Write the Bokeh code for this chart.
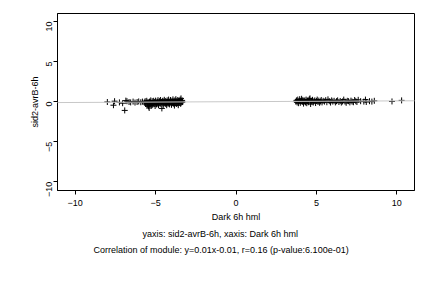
import math
from bokeh.plotting import figure
from bokeh.models import Slope, Range1d, FixedTicker, Title
from bokeh.embed import file_html
from bokeh.resources import INLINE

# ---- data ----
dark_6h_hml = [
    -8.00, -7.62, -7.55, -7.25, -7.05, -6.92, -6.85, -6.78, -6.65, -6.55,
    -6.40, -6.28, -6.15, -6.05, -5.92, -5.82,
    -5.70, -5.65, -5.62, -5.58, -5.55, -5.52, -5.50, -5.47, -5.44, -5.40,
    -5.38, -5.35, -5.32, -5.30, -5.27, -5.24, -5.21, -5.18, -5.15, -5.12,
    -5.09, -5.06, -5.03, -5.00, -4.97, -4.94, -4.91, -4.88, -4.85, -4.82,
    -4.79, -4.76, -4.73, -4.70, -4.67, -4.64, -4.61, -4.58, -4.55, -4.52,
    -4.49, -4.46, -4.43, -4.40, -4.37, -4.34, -4.31, -4.28, -4.25, -4.22,
    -4.19, -4.16, -4.13, -4.10, -4.07, -4.04, -4.01, -3.98, -3.95, -3.92,
    -3.89, -3.86, -3.83, -3.80, -3.77, -3.74, -3.71, -3.68, -3.65, -3.62,
    -3.59, -3.56, -3.53, -3.50, -3.47, -3.44, -3.42, -3.40, -3.38, -3.35,
    -3.33,
    3.72, 3.76, 3.80, 3.84, 3.88, 3.92, 3.96, 4.00, 4.04, 4.08,
    4.12, 4.16, 4.20, 4.24, 4.28, 4.32, 4.36, 4.40, 4.44, 4.48,
    4.52, 4.56, 4.60, 4.64, 4.68, 4.72, 4.76, 4.80, 4.85, 4.90,
    4.95, 5.00, 5.05, 5.10, 5.15, 5.20, 5.25, 5.30, 5.35, 5.42,
    5.50, 5.58, 5.65, 5.72, 5.80, 5.88, 5.95, 6.02, 6.10, 6.18,
    6.25, 6.32, 6.40, 6.48, 6.55, 6.62, 6.70, 6.78, 6.85, 6.92,
    7.00, 7.08, 7.15, 7.22, 7.30, 7.38, 7.45, 7.52, 7.60, 7.75,
    7.95, 8.05, 8.10, 8.30, 8.45, 8.60, 9.70, 10.30,
]
sid2_avrB_6h = [
    -0.05, -0.45, 0.05, -0.10, -0.20, -1.10, 0.12, 0.05, -0.05, -0.10,
    0.00, -0.12, -0.05, 0.02, -0.08, 0.00,
    -0.10, 0.05, -0.30, -0.15, 0.10, -0.45, -0.20, -0.05, -0.60, -0.80,
    0.00, -0.35, -0.10, 0.15, -0.50, -0.25, 0.05, -0.40, -0.15, 0.10,
    -0.30, -0.05, -0.55, 0.12, -0.20, -0.35, 0.00, -0.10, 0.18, -0.45,
    -0.25, 0.05, -0.15, 0.20, -0.30, -0.05, -0.85, 0.10, -0.20, -0.40,
    0.02, 0.22, -0.12, -0.30, 0.08, -0.22, -0.45, 0.15, -0.05, -0.28,
    0.25, -0.10, -0.35, 0.05, 0.20, -0.18, -0.40, 0.10, -0.05, 0.28,
    -0.25, 0.00, -0.50, 0.15, -0.12, 0.30, -0.30, 0.05, -0.20, 0.20,
    -0.45, -0.08, 0.12, -0.15, 0.25, -0.28, 0.40, 0.05, -0.10, 0.15,
    -0.05,
    0.00, 0.15, -0.10, 0.25, -0.20, 0.05, 0.30, -0.15, 0.10, 0.35,
    -0.05, 0.20, -0.25, 0.00, 0.15, -0.10, 0.25, -0.20, 0.05, 0.18,
    -0.08, 0.30, 0.40, -0.30, 0.10, 0.00, 0.22, -0.12, 0.05, 0.15,
    -0.18, 0.08, 0.25, -0.05, 0.12, -0.15, 0.02, 0.20, -0.10, 0.10,
    0.00, 0.18, -0.08, 0.28, 0.05, -0.12, 0.15, 0.00, 0.10, -0.10,
    0.05, 0.15, -0.05, 0.08, -0.12, 0.02, 0.25, 0.00, -0.15, 0.10,
    0.05, -0.10, 0.12, 0.00, -0.08, 0.20, 0.05, -0.05, 0.22, 0.05,
    0.00, 0.25, -0.05, 0.05, 0.00, 0.10, 0.02, 0.15,
]
fit_slope = 0.01
fit_intercept = -0.01
x_ticks = [-10, -5, 0, 5, 10]
y_ticks = [-10, -5, 0, 5, 10]
x_label = "Dark 6h hml"
y_label = "sid2-avrB-6h"
subtitle1 = "yaxis: sid2-avrB-6h, xaxis: Dark 6h hml"
subtitle2 = "Correlation of module: y=0.01x-0.01, r=0.16 (p-value:6.100e-01)"

FONT = "Liberation Sans"
FS = "9px"

p = figure(width=432, height=288, output_backend="svg", toolbar_location=None,
           x_range=Range1d(-11.1, 11.1), y_range=Range1d(-11.1, 11.0),
           min_border_left=57, min_border_right=18, min_border_top=13,
           min_border_bottom=98)
p.background_fill_color = "white"
p.border_fill_color = "white"
p.outline_line_color = "black"
p.outline_line_width = 1
p.grid.visible = False

# regression line
p.add_layout(Slope(gradient=fit_slope, y_intercept=fit_intercept,
                   line_color="#c8c8c8", line_width=1))

p.scatter(dark_6h_hml, sid2_avrB_6h, marker="cross", size=6,
          line_color="black", line_width=1)

for ax in (p.xaxis[0], p.yaxis[0]):
    ax.minor_tick_line_color = None
    ax.major_tick_out = 4
    ax.major_tick_in = 0
    ax.axis_line_color = "black"
    ax.major_tick_line_color = "black"
    ax.major_label_text_font = FONT
    ax.major_label_text_font_size = FS
    ax.major_label_text_color = "black"
    ax.axis_label_text_font = FONT
    ax.axis_label_text_font_size = FS
    ax.axis_label_text_font_style = "normal"
    ax.axis_label_text_color = "black"

p.xaxis.ticker = FixedTicker(ticks=x_ticks)
p.yaxis.ticker = FixedTicker(ticks=y_ticks)
p.xaxis.axis_label = x_label
p.yaxis.axis_label = y_label
p.xaxis.major_label_standoff = 5
p.xaxis.axis_label_standoff = 3
p.yaxis.major_label_orientation = math.pi / 2
p.yaxis.major_label_standoff = 4
p.yaxis.axis_label_standoff = 1

for txt, so, off in ((subtitle1, 5, 85), (subtitle2, 2, 36)):
    p.add_layout(Title(text=txt, align="left", offset=off, standoff=so,
                       text_font=FONT, text_font_size=FS,
                       text_font_style="normal", text_color="black"), "below")

open("out.html", "w").write(file_html(p, INLINE))
